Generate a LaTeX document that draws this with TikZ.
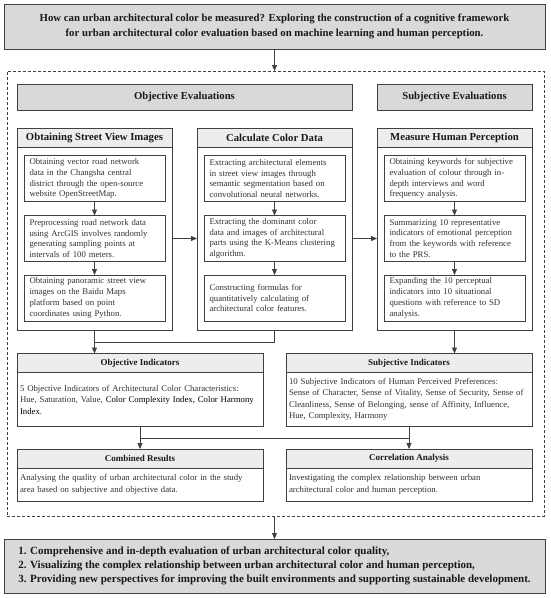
\documentclass[tikz,border=0pt]{standalone}
\usepackage{fontspec}
\setmainfont{Liberation Serif}
\usetikzlibrary{arrows.meta,calc}
\definecolor{boxgray}{HTML}{D9D9D9}
\definecolor{hdrgray}{HTML}{EDEDED}
\definecolor{linec}{HTML}{404040}
\definecolor{txtc}{HTML}{333333}
\begin{document}
\hyphenpenalty=10000
\exhyphenpenalty=10000
\begin{tikzpicture}[x=1pt,y=-1pt,
  every node/.style={inner sep=0pt, outer sep=0pt},
  gbox/.style={draw=linec, line width=1pt, fill=boxgray, text=black!90},
  hbox/.style={draw=linec, line width=0.9pt, fill=hdrgray, text=black!90},
  wbox/.style={draw=linec, line width=0.9pt, fill=white},
  ibox/.style={draw=linec, line width=0.9pt, fill=white, minimum width=141pt, minimum height=46pt,
    text width=130pt, inner xsep=5.5pt, align=left, font=\fontsize{8.75}{10.8}\selectfont, text=txtc},
  colhead/.style={hbox, minimum width=155pt, minimum height=19pt, font=\bfseries\fontsize{10.7}{12}\selectfont},
  colbody/.style={wbox, minimum width=155pt, minimum height=183pt, anchor=north},
  indhead/.style={hbox, minimum width=246pt, minimum height=19pt, font=\bfseries\fontsize{9}{11}\selectfont},
  indbody/.style={wbox, minimum width=246pt, anchor=north, text width=240pt, inner xsep=3pt,
    align=left, font=\fontsize{8.75}{11.5}\selectfont, text=txtc},
  ln/.style={draw=linec, line width=0.9pt},
  arr/.style={ln, -{Triangle[length=6pt,width=5pt]}}
]
\useasboundingbox (0,0) rectangle (550,598);

% title
\node[gbox, minimum width=541pt, minimum height=45pt, align=center,
  font=\bfseries\fontsize{10.75}{14.5}\selectfont] (title) at (274.5,26.5)
  {How can urban architectural color be measured? Exploring the construction of a cognitive framework\\
   for urban architectural color evaluation based on machine learning and human perception.};

% dashed frame
\node[draw=linec, dash pattern=on 3pt off 2pt, line width=0.8pt,
  minimum width=537pt, minimum height=445pt] (frame) at (275.5,293.5) {};

\draw[arr] (title.south) -- (title.south |- frame.north);

% evaluation bars
\node[gbox, minimum width=335pt, minimum height=26pt, font=\bfseries\fontsize{10.7}{12}\selectfont]
  (oe) at (184.5,97) {Objective Evaluations};
\node[gbox, minimum width=155pt, minimum height=26pt, font=\bfseries\fontsize{10.7}{12}\selectfont]
  (se) at (454.5,97) {Subjective Evaluations};

% columns
\node[colhead] (c1h) at (94.5,138) {Obtaining Street View Images};
\node[colbody] (c1) at (c1h.south) {};
\node[colhead] (c2h) at (274.5,138) {Calculate Color Data};
\node[colbody] (c2) at (c2h.south) {};
\node[colhead] (c3h) at (454.5,138) {Measure Human Perception};
\node[colbody] (c3) at (c3h.south) {};

\node[ibox] (c1a) at (94.5,178.5) {Obtaining vector road network\\data in the Changsha central\\district through the open-source\\website OpenStreetMap.};
\node[ibox] (c1b) at (94.5,238.5) {Preprocessing road network data\\using ArcGIS involves randomly\\generating sampling points at\\intervals of 100 meters.};
\node[ibox] (c1c) at (94.5,298) {Obtaining panoramic street view\\images on the Baidu Maps\\platform based on point\\coordinates using Python.};

\node[ibox] (c2a) at (274.5,178.5) {Extracting architectural elements\\in street view images through\\semantic segmentation based on\\convolutional neural networks.};
\node[ibox] (c2b) at (274.5,238.5) {Extracting the dominant color\\data and images of architectural\\parts using the K-Means clustering\\algorithm.};
\node[ibox] (c2c) at (274.5,298) {Constructing formulas for\\quantitatively calculating of\\architectural color features.};

\node[ibox] (c3a) at (454.5,178.5) {Obtaining keywords for subjective\\evaluation of colour through in-\\depth interviews and word\\frequency analysis.};
\node[ibox] (c3b) at (454.5,238.5) {Summarizing 10 representative\\indicators of emotional perception\\from the keywords with reference\\to the PRS.};
\node[ibox] (c3c) at (454.5,298) {Expanding the 10 perceptual\\indicators into 10 situational\\questions with reference to SD\\analysis.};

\draw[arr] (c1a) -- (c1b);
\draw[arr] (c1b) -- (c1c);
\draw[arr] (c2a) -- (c2b);
\draw[arr] (c2b) -- (c2c);
\draw[arr] (c3a) -- (c3b);
\draw[arr] (c3b) -- (c3c);
\draw[arr] (c1.east |- c1b.east) -- (c2.west |- c1b.west);
\draw[arr] (c2.east |- c2b.east) -- (c3.west |- c2b.west);

% indicators
\node[indhead] (oih) at (140,363) {Objective Indicators};
\node[indbody, minimum height=54pt] (oib) at (oih.south)
  {5 Objective Indicators of Architectural Color Characteristics:\\Hue, Saturation, Value, {\color{black}Color Complexity Index, Color Harmony}\\{\color{black}Index}.};
\node[indhead] (sih) at (409,363) {Subjective Indicators};
\node[indbody, minimum height=54pt] (sib) at (sih.south)
  {10 Subjective Indicators of Human Perceived Preferences:\\Sense of Character, Sense of Vitality, Sense of Security, Sense of\\Cleanliness, Sense of Belonging, sense of Affinity, Influence,\\Hue, Complexity, Harmony};

\coordinate (j1) at ([yshift=-12pt]c1.south);
\draw[ln] (c2.south) |- (j1);
\draw[arr] (c1.south) -- (c1.south |- oih.north);
\draw[arr] (c3.south) -- (c3.south |- sih.north);

% results
\node[indhead] (crh) at (140,458.5) {Combined Results};
\node[indbody, minimum height=33pt] (crb) at (crh.south)
  {Analysing the quality of urban architectural color in the study\\area based on subjective and objective data.};
\node[indhead] (cah) at (409,458.5) {Correlation Analysis};
\node[indbody, minimum height=33pt] (cab) at (cah.south)
  {Investigating the complex relationship between urban\\architectural color and human perception.};

\coordinate (j2) at ([yshift=-12pt]oib.south);
\coordinate (j3) at ([yshift=-12pt]sib.south);
\draw[ln] (j2) -- (j3);
\draw[arr] (oib.south) -- (oib.south |- crh.north);
\draw[arr] (sib.south) -- (sib.south |- cah.north);

% final box
\node[gbox, minimum width=541pt, minimum height=54pt, align=left,
  font=\bfseries\fontsize{11}{14}\selectfont] (res) at (274.5,566)
  {1. Comprehensive and in-depth evaluation of urban architectural color quality,\\
   2. Visualizing the complex relationship between urban architectural color and human perception,\\
   3. Providing new perspectives for improving the built environments and supporting sustainable development.};
\draw[arr] (frame.south -| res.north) -- (res.north);
\end{tikzpicture}
\end{document}
